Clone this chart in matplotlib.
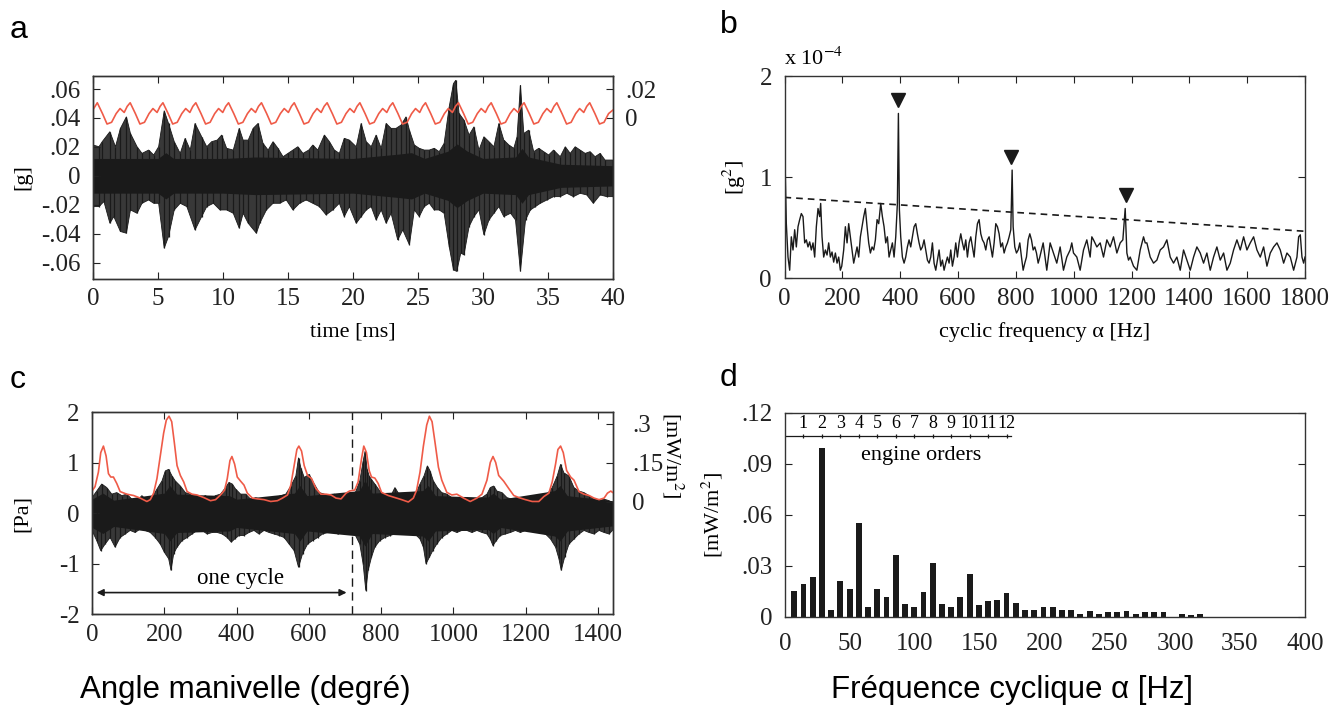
import numpy as np
import matplotlib
matplotlib.use("Agg")
import matplotlib.pyplot as plt

plt.rcParams['font.family'] = ['Liberation Serif', 'DejaVu Serif']
plt.rcParams['mathtext.fontset'] = 'stix'
plt.rcParams['axes.unicode_minus'] = False

RED = '#ef5b48'
BLK = '#1a1a1a'
GRY = '#383838'

# ---- panel a : acceleration [g] vs time [ms] (spike tips of the raw trace)
a_up_t = [0.0, 0.46, 0.71, 1.30, 1.73, 2.11, 2.57, 2.88, 3.39, 3.77,
          4.28, 4.67, 5.05, 5.48, 5.81, 6.25, 6.71, 7.09, 7.48, 7.85,
          8.36, 8.75, 9.13, 9.56, 9.90, 10.28, 10.79, 11.25, 11.55, 11.94,
          12.32, 12.70, 13.08, 13.47, 13.85, 14.23, 14.62, 15.00, 15.38, 15.76,
          16.15, 16.60, 16.91, 17.29, 17.80, 18.19, 18.57, 18.95, 19.33, 19.72,
          20.25, 20.63, 21.02, 21.40, 21.78, 22.17, 22.55, 22.93, 23.31, 23.70,
          24.08, 24.34, 24.72, 25.10, 25.48, 25.87, 26.25, 26.63, 27.01, 27.40,
          27.73, 27.91, 28.16, 28.54, 28.93, 29.31, 29.69, 30.07, 30.46, 30.84,
          31.22, 31.60, 31.99, 32.37, 32.62, 32.88, 33.14, 33.52, 33.90, 34.29,
          34.67, 35.05, 35.43, 35.94, 36.33, 36.71, 37.09, 37.47, 37.86, 38.24,
          38.62, 39.01, 39.39, 40.0]
a_up_v = [.0213, .0201, .0236, .0305, .0201, .0328, .0408, .0293, .0201, .0155,
          .0178, .0144, .0201, .0450, .0362, .0236, .0155, .0259, .0178, .0362,
          .0270, .0201, .0236, .0247, .0282, .0190, .0178, .0328, .0247, .0247,
          .0328, .0362, .0224, .0178, .0236, .0190, .0132, .0155, .0178, .0201,
          .0155, .0178, .0213, .0178, .0282, .0236, .0178, .0155, .0259, .0247,
          .0201, .0362, .0236, .0201, .0282, .0190, .0362, .0328, .0328, .0351,
          .0408, .0316, .0213, .0190, .0178, .0178, .0190, .0167, .0224, .0477,
          .0638, .0661, .0431, .0385, .0282, .0339, .0178, .0270, .0236, .0201,
          .0362, .0247, .0213, .0190, .0270, .0627, .0293, .0316, .0167, .0190,
          .0167, .0144, .0178, .0132, .0201, .0155, .0201, .0178, .0155, .0167,
          .0132, .0155, .0109, .0109]
a_lo_t = [0.0, 0.46, 0.84, 1.30, 1.60, 2.11, 2.57, 2.88, 3.39, 3.77,
          4.28, 4.67, 5.05, 5.48, 5.81, 6.25, 6.71, 7.22, 7.85, 8.36,
          8.75, 9.26, 9.77, 10.28, 10.79, 11.25, 11.55, 11.94, 12.57, 12.83,
          13.34, 13.85, 14.36, 14.87, 15.38, 15.89, 16.40, 16.91, 17.42, 17.93,
          18.44, 18.95, 19.33, 19.72,
          20.25, 20.63, 21.02, 21.40, 21.78, 22.17, 22.55, 22.93, 23.44, 23.83,
          24.34, 24.72, 25.10, 25.48, 25.87, 26.25, 26.63, 27.01, 27.40, 27.73,
          27.98, 28.29, 28.54, 28.93, 29.31, 29.69, 30.07, 30.46, 30.84, 31.22,
          31.60, 32.12, 32.50, 32.88, 33.27, 33.65, 34.03, 34.41, 34.92, 35.43,
          35.94, 36.45, 36.96, 37.47, 37.98, 38.49, 39.01, 39.52, 40.0]
a_lo_v = [-.0213, -.0213, -.0178, -.0328, -.0282, -.0385, -.0397, -.0236, -.0259, -.0190,
          -.0167, -.0190, -.0190, -.0500, -.0420, -.0236, -.0190, -.0213, -.0374, -.0282,
          -.0213, -.0190, -.0236, -.0236, -.0259, -.0362, -.0259, -.0328, -.0397, -.0328,
          -.0236, -.0190, -.0190, -.0167, -.0236, -.0190, -.0167, -.0190, -.0213, -.0270,
          -.0236, -.0190, -.0282, -.0213,
          -.0328, -.0282, -.0236, -.0213, -.0305, -.0236, -.0328, -.0259, -.0443, -.0374,
          -.0477, -.0236, -.0282, -.0213, -.0190, -.0236, -.0236, -.0259, -.0489, -.0650,
          -.0661, -.0535, -.0546, -.0351, -.0282, -.0236, -.0408, -.0305, -.0259, -.0213,
          -.0282, -.0259, -.0305, -.0661, -.0305, -.0236, -.0213, -.0190, -.0167, -.0144,
          -.0144, -.0121, -.0144, -.0121, -.0132, -.0190, -.0132, -.0144, -.0144]
# solid dense core of the trace (half height)
a_core_t = [0, 5.0, 5.6, 6.2, 10, 12.5, 20, 23.5, 24.5, 25.5, 27.3, 28.0, 28.8, 30, 32.5, 33.0, 33.5, 35, 36, 40]
a_core_v = [.012, .012, .016, .012, .012, .013, .012, .015, .016, .012, .017, .022, .017, .012, .013, .019, .013, .010, .008, .007]

# red curve of panel a (right axis)
a_red_t = [0.0,
           0.33, 0.73, 1.08, 1.43, 1.78, 2.08, 2.40, 2.63,
           2.86, 3.26, 3.61, 3.96, 4.31, 4.61, 4.93, 5.16,
           5.38, 5.78, 6.13, 6.48, 6.83, 7.13, 7.45, 7.68,
           7.91, 8.31, 8.66, 9.01, 9.36, 9.66, 9.98, 10.21,
           10.43, 10.83, 11.18, 11.53, 11.88, 12.18, 12.50, 12.73,
           12.96, 13.36, 13.71, 14.06, 14.41, 14.71, 15.03, 15.26,
           15.48, 15.88, 16.23, 16.58, 16.93, 17.23, 17.55, 17.78,
           18.01, 18.41, 18.76, 19.11, 19.46, 19.76, 20.08, 20.31,
           20.53, 20.93, 21.28, 21.63, 21.98, 22.28, 22.60, 22.83,
           23.06, 23.46, 23.81, 24.16, 24.51, 24.81, 25.13, 25.36,
           25.58, 25.98, 26.33, 26.68, 27.03, 27.33, 27.65, 27.88,
           28.11, 28.51, 28.86, 29.21, 29.56, 29.86, 30.18, 30.41,
           30.63, 31.03, 31.38, 31.73, 32.08, 32.38, 32.70, 32.93,
           33.16, 33.56, 33.91, 34.26, 34.61, 34.91, 35.23, 35.46,
           35.68, 36.08, 36.43, 36.78, 37.13, 37.43, 37.75, 37.98,
           38.21, 38.61, 38.96, 39.31, 39.66, 40.0]
a_red_v = [0.0057,
           0.0105, 0.003, -0.0042, -0.003, 0.003, 0.0065, 0.0038, 0.008,
           0.0105, 0.003, -0.0042, -0.003, 0.003, 0.0065, 0.0038, 0.008,
           0.0105, 0.003, -0.0042, -0.003, 0.003, 0.0065, 0.0038, 0.008,
           0.0105, 0.003, -0.0042, -0.003, 0.003, 0.0065, 0.0038, 0.008,
           0.0105, 0.003, -0.0042, -0.003, 0.003, 0.0065, 0.0038, 0.008,
           0.0105, 0.003, -0.0042, -0.003, 0.003, 0.0065, 0.0038, 0.008,
           0.0105, 0.003, -0.0042, -0.003, 0.003, 0.0065, 0.0038, 0.008,
           0.0105, 0.003, -0.0042, -0.003, 0.003, 0.0065, 0.0038, 0.008,
           0.0105, 0.003, -0.0042, -0.003, 0.003, 0.0065, 0.0038, 0.008,
           0.0105, 0.003, -0.0042, -0.003, 0.003, 0.0065, 0.0038, 0.008,
           0.0105, 0.003, -0.0042, -0.003, 0.003, 0.0065, 0.0038, 0.008,
           0.0105, 0.003, -0.0042, -0.003, 0.003, 0.0065, 0.0038, 0.008,
           0.0105, 0.003, -0.0042, -0.003, 0.003, 0.0065, 0.0038, 0.008,
           0.0105, 0.003, -0.0042, -0.003, 0.003, 0.0065, 0.0038, 0.008,
           0.0105, 0.003, -0.0042, -0.003, 0.003, 0.0065, 0.0038, 0.008,
           0.0105, 0.003, -0.0042, -0.003, 0.003, 0.0055]

# ---- panel b : cyclic spectrum [x1e-4 g^2] vs cyclic frequency [Hz]
b_freq = [0, 6.3, 12.1, 17.9, 23.6, 29.4, 35.2, 40.9, 46.7, 52.5,
          58.2, 64.0, 69.8, 75.5, 81.3, 87.1, 92.8, 98.6, 104.4, 110.1,
          115.9, 121.7, 125.1, 129.8, 135.5, 141.3, 147.1, 152.8, 158.6, 164.4,
          170.1, 175.9, 181.7, 187.4, 193.2, 198.0, 204.7, 210.5, 216.3, 222.0,
          227.8, 233.6, 239.3, 245.1, 250.9, 256.6, 262.4, 268.2, 273.9, 279.7,
          285.5, 291.2, 297.0, 302.8, 308.5, 314.3, 320.1, 325.8, 332.8, 338.5,
          344.3, 350.1, 355.8, 361.6, 367.4, 373.1, 378.9, 384.7, 390.4, 393.9,
          397.3, 401.9, 407.7, 413.5, 419.2, 425.0, 430.8, 436.5, 442.3, 448.1,
          453.9, 459.6, 465.4, 471.2, 476.9, 482.7, 488.5, 494.2, 500.0, 505.8,
          511.5, 517.3, 523.1, 528.8, 534.6, 540.4, 546.1, 551.9, 557.7, 563.4,
          569.2, 575.0, 580.7, 586.5, 592.3, 598.0, 603.8, 609.6, 615.3, 621.1,
          626.9, 632.6, 638.4, 644.2, 649.9, 655.7, 661.5, 667.2, 673.0, 678.8,
          684.5, 690.3, 696.1, 701.8, 707.6, 713.4, 719.1, 724.9, 730.7, 736.4,
          742.2, 748.0, 753.7, 759.5, 765.3, 771.0, 776.8, 782.6, 787.2, 790.7,
          796.4, 802.2, 808.0, 813.7, 819.5, 825.3, 831.0, 836.8, 842.6, 848.3,
          854.1, 859.9, 865.6, 871.4, 877.2, 882.9, 888.7, 894.5,
          907.0, 918.6, 930.1, 941.6, 953.2, 964.7, 976.2, 987.8, 993.5, 999.4,
          1010.9, 1022.4, 1034.0, 1045.5, 1057.0, 1062.8, 1068.6, 1080.2, 1091.7, 1103.2,
          1114.8, 1126.3, 1137.8, 1149.4, 1160.9, 1170.1, 1178.2, 1184.0, 1189.7, 1195.5,
          1207.0, 1218.6, 1230.1, 1241.6, 1247.4, 1253.2, 1264.7, 1276.2, 1287.8, 1299.3,
          1310.8, 1322.3, 1333.9, 1345.4, 1356.9, 1368.5, 1380.0, 1391.5, 1403.1, 1414.6,
          1426.1, 1437.7, 1449.2, 1460.7, 1472.3, 1483.8, 1495.3, 1506.9, 1518.5, 1530.0,
          1541.5, 1553.0, 1564.6, 1576.1, 1587.7, 1599.2, 1610.7, 1622.3, 1633.8, 1645.3,
          1656.9, 1668.4, 1679.9, 1691.5, 1703.0, 1714.5, 1726.1, 1737.6, 1749.1, 1760.7,
          1772.2, 1778.0, 1783.7, 1789.5, 1795.3, 1800]
b_amp = [1.43, 0.54, 0.21, 0.08, 0.41, 0.28, 0.48, 0.31, 0.51, 0.58,
         0.64, 0.61, 0.35, 0.38, 0.31, 0.36, 0.28, 0.35, 0.21, 0.51,
         0.69, 0.61, 0.74, 0.41, 0.21, 0.28, 0.23, 0.35, 0.21, 0.26,
         0.16, 0.25, 0.15, 0.21, 0.08, 0.12, 0.28, 0.51, 0.35, 0.54,
         0.41, 0.28, 0.15, 0.23, 0.31, 0.21, 0.41, 0.51, 0.61, 0.69,
         0.51, 0.35, 0.25, 0.31, 0.28, 0.38, 0.58, 0.54, 0.74, 0.61,
         0.51, 0.35, 0.41, 0.21, 0.28, 0.35, 0.21, 0.41, 0.74, 1.63,
         0.68, 0.41, 0.21, 0.15, 0.21, 0.31, 0.38, 0.31, 0.41, 0.51,
         0.54, 0.44, 0.35, 0.28, 0.31, 0.38, 0.28, 0.18, 0.15, 0.21,
         0.35, 0.15, 0.08, 0.18, 0.28, 0.12, 0.18, 0.08, 0.15, 0.21,
         0.15, 0.28, 0.12, 0.21, 0.35, 0.21, 0.35, 0.44, 0.35, 0.28,
         0.38, 0.21, 0.35, 0.41, 0.31, 0.21, 0.41, 0.54, 0.58, 0.44,
         0.38, 0.35, 0.28, 0.38, 0.41, 0.31, 0.21, 0.35, 0.54, 0.51,
         0.44, 0.31, 0.35, 0.25, 0.31, 0.35, 0.41, 0.48, 1.07, 0.51,
         0.31, 0.25, 0.28, 0.35, 0.21, 0.08, 0.15, 0.21, 0.38, 0.44,
         0.38, 0.28, 0.31, 0.25, 0.15, 0.21, 0.28, 0.35,
         0.08, 0.35, 0.25, 0.15, 0.31, 0.08, 0.21, 0.28, 0.35, 0.25,
         0.21, 0.08, 0.28, 0.38, 0.21, 0.41, 0.38, 0.31, 0.35, 0.21,
         0.38, 0.31, 0.41, 0.25, 0.35, 0.38, 0.69, 0.25, 0.18, 0.21,
         0.12, 0.08, 0.28, 0.41, 0.35, 0.35, 0.21, 0.15, 0.18, 0.28,
         0.31, 0.38, 0.21, 0.15, 0.21, 0.08, 0.28, 0.18, 0.08, 0.21,
         0.31, 0.25, 0.15, 0.25, 0.08, 0.21, 0.31, 0.18, 0.25, 0.08,
         0.15, 0.28, 0.38, 0.28, 0.41, 0.28, 0.35, 0.41, 0.28, 0.21,
         0.31, 0.12, 0.25, 0.31, 0.35, 0.28, 0.15, 0.25, 0.21, 0.08,
         0.21, 0.41, 0.43, 0.21, 0.15, 0.21]
b_thresh_f = [0, 1800]
b_thresh_v = [0.80, 0.465]
b_mark_f = [394, 782, 1181]
b_mark_v = [1.76, 1.20, 0.82]

# ---- panel c : pressure [Pa] and red power curve [mW/m2] vs crank angle
c_up_deg = [0, 13.1, 26.9, 40.8, 54.7, 68.6, 82.5, 96.4, 110.3, 124.2,
            138.1, 151.9, 165.8, 179.7, 193.6, 202.9, 212.1, 221.4, 230.6, 244.5,
            258.4, 272.3, 286.2, 300.1, 314.0, 327.9, 341.8, 355.6, 369.5, 378.8,
            388.1, 397.3, 411.2, 425.1, 439.0, 452.9, 466.8, 480.6, 494.5, 508.4,
            522.3, 536.2, 550.1, 564.0, 571.4, 577.9, 587.1, 601.0, 614.9, 628.8,
            642.7, 656.6, 670.5, 684.4, 698.2, 712.1, 727.0, 740.8, 750.1, 755.6,
            761.2, 766.8, 773.2, 782.5, 796.4, 810.3, 824.2, 838.1, 851.9, 865.8,
            879.7, 893.6, 907.5, 918.6, 927.9, 935.3, 944.5, 955.6, 967.7, 981.6,
            995.5, 1009.4, 1023.2, 1037.1, 1051.0, 1064.9, 1078.8, 1092.7, 1101.9, 1111.2,
            1120.5, 1134.4, 1148.2, 1162.1, 1176.0, 1189.9, 1203.8, 1217.7, 1231.6, 1245.5,
            1259.4, 1273.2, 1287.1, 1296.4, 1305.6, 1319.5, 1333.4, 1347.3, 1361.2, 1375.1,
            1389.0, 1402.9, 1416.8, 1430.6, 1440]
c_up_v = [0.31, 0.44, 0.58, 0.51, 0.38, 0.41, 0.35, 0.38, 0.28, 0.25,
          0.35, 0.25, 0.31, 0.48, 0.64, 0.84, 0.87, 0.74, 0.64, 0.54,
          0.41, 0.38, 0.31, 0.31, 0.35, 0.28, 0.35, 0.38, 0.51, 0.61,
          0.58, 0.48, 0.38, 0.38, 0.28, 0.31, 0.28, 0.31, 0.28, 0.31,
          0.35, 0.38, 0.54, 0.74, 1.10, 0.90, 0.71, 0.77, 0.58, 0.41,
          0.38, 0.31, 0.38, 0.28, 0.31, 0.25, 0.38, 0.64, 1.03, 1.23,
          0.87, 0.74, 0.67, 0.58, 0.44, 0.35, 0.31, 0.51, 0.35, 0.31,
          0.25, 0.35, 0.58, 0.74, 0.94, 0.84, 0.64, 0.51, 0.41, 0.38,
          0.31, 0.28, 0.28, 0.31, 0.25, 0.28, 0.31, 0.38, 0.51, 0.54,
          0.44, 0.41, 0.31, 0.28, 0.28, 0.31, 0.28, 0.25, 0.28, 0.31,
          0.38, 0.51, 0.74, 0.97, 0.80, 0.74, 0.51, 0.44, 0.41, 0.35,
          0.28, 0.25, 0.28, 0.25, 0.18]
c_lo_deg = [0, 13.1, 24.2, 36.2, 50.1, 64.0, 77.9, 91.8, 105.6, 119.5,
            133.4, 147.3, 161.2, 175.1, 189.0, 200.1, 212.1, 218.6, 226.0, 235.3,
            249.2, 263.1, 276.9, 290.8, 304.7, 318.6, 332.5, 346.4, 360.3, 374.2,
            385.3, 394.5, 406.6, 420.5, 434.4, 448.2, 462.1, 476.0, 489.9, 503.8,
            517.7, 531.6, 545.5, 559.3, 571.4, 582.5, 596.4, 610.3, 624.2, 638.1,
            651.9, 665.8, 679.7, 693.6, 707.5, 727.0, 740.8, 750.1, 757.5, 764.0,
            773.2, 782.5, 796.4, 810.3, 824.2, 838.1, 851.9, 865.8, 879.7, 893.6,
            907.5, 916.8, 924.2, 933.4, 942.7, 953.8, 967.7, 981.6, 995.5, 1009.4,
            1023.2, 1037.1, 1051.0, 1064.9, 1078.8, 1092.7, 1101.9, 1109.4, 1118.6, 1129.7,
            1143.6, 1157.5, 1171.4, 1185.3, 1199.2, 1213.1, 1226.9, 1240.8, 1254.7, 1268.6,
            1282.5, 1291.8, 1298.2, 1307.5, 1319.5, 1333.4, 1347.3, 1361.2, 1375.1, 1389.0,
            1402.9, 1416.8, 1430.6, 1440]
c_lo_v = [-0.34, -0.54, -0.74, -0.61, -0.48, -0.67, -0.48, -0.41, -0.34, -0.38,
          -0.31, -0.34, -0.38, -0.48, -0.61, -0.77, -0.90, -1.13, -0.80, -0.67,
          -0.54, -0.48, -0.41, -0.34, -0.34, -0.41, -0.38, -0.38, -0.41, -0.48,
          -0.57, -0.51, -0.44, -0.44, -0.38, -0.34, -0.41, -0.34, -0.38, -0.41,
          -0.44, -0.48, -0.61, -0.74, -1.07, -0.80, -0.61, -0.54, -0.48, -0.41,
          -0.38, -0.34, -0.41, -0.38, -0.38, -0.41, -0.61, -1.00, -1.53, -1.13,
          -0.87, -0.67, -0.54, -0.48, -0.44, -0.41, -0.38, -0.34, -0.38, -0.41,
          -0.51, -0.67, -1.00, -0.87, -0.74, -0.61, -0.48, -0.41, -0.34, -0.38,
          -0.34, -0.34, -0.38, -0.34, -0.38, -0.41, -0.51, -0.64, -0.54, -0.44,
          -0.41, -0.38, -0.34, -0.38, -0.34, -0.31, -0.34, -0.38, -0.41, -0.51,
          -0.67, -0.90, -1.13, -0.87, -0.61, -0.51, -0.41, -0.34, -0.38, -0.41,
          -0.34, -0.38, -0.41, -0.34]
c_core_deg = [0, 30, 60, 200, 215, 235, 380, 400, 560, 575, 595, 740, 755, 775, 915, 930, 950,
              1095, 1110, 1130, 1280, 1295, 1315, 1440]
c_core_v = [0.28, 0.40, 0.26, 0.40, 0.55, 0.38, 0.35, 0.28, 0.40, 0.55, 0.35, 0.45, 0.65, 0.40,
            0.45, 0.55, 0.35, 0.32, 0.40, 0.28, 0.45, 0.55, 0.35, 0.25]
c_red_deg = [0, 8.4, 17.7, 24.2, 31.6, 39.0, 45.5, 51.9, 59.3, 68.6,
             77.9, 96.4, 114.9, 133.4, 151.9, 161.2, 170.5, 179.7, 189.0, 198.2,
             205.6, 213.1, 220.5, 227.9, 235.3, 244.5, 253.8, 263.1, 276.9, 290.8,
             309.4, 327.9, 341.8, 355.6, 366.8, 374.2, 381.6, 387.1, 394.5, 401.9,
             411.2, 420.5, 429.7, 443.6, 457.5, 476.0, 494.5, 513.0, 526.9, 540.8,
             550.1, 559.3, 566.8, 572.3, 579.7, 587.1, 596.4, 607.5, 619.5, 633.4,
             647.3, 661.2, 675.1, 689.0, 702.9, 712.1, 727.0, 736.2, 745.5, 751.9,
             759.4, 766.8, 773.2, 782.5, 791.8, 801.0, 819.5, 838.1, 856.6, 875.1,
             889.0, 898.2, 907.5, 916.8, 926.0, 933.4, 940.8, 949.2, 958.4, 967.7,
             981.6, 995.5, 1009.4, 1027.9, 1046.4, 1064.9, 1078.8, 1092.7, 1101.9, 1109.4,
             1116.8, 1125.1, 1139.0, 1152.9, 1166.8, 1180.6, 1199.2, 1217.7, 1236.2, 1250.1,
             1264.0, 1273.2, 1282.5, 1289.0, 1296.4, 1303.8, 1313.1, 1324.2, 1333.4, 1347.3,
             1361.2, 1375.1, 1389.0, 1402.9, 1416.8, 1426.0, 1435.3, 1440]
c_red_v = [0.041, 0.058, 0.114, 0.189, 0.214, 0.176, 0.108, 0.095, 0.095, 0.070,
           0.039, 0.029, 0.024, 0.014, 0.001, 0.008, 0.033, 0.089, 0.176, 0.264,
           0.314, 0.329, 0.308, 0.226, 0.139, 0.101, 0.076, 0.039, 0.029, 0.026,
           0.016, 0.004, 0.008, 0.026, 0.045, 0.089, 0.158, 0.174, 0.145, 0.095,
           0.079, 0.064, 0.033, 0.014, 0.011, 0.008, 0.001, 0.004, 0.014, 0.026,
           0.064, 0.139, 0.201, 0.214, 0.195, 0.139, 0.101, 0.089, 0.051, 0.029,
           0.029, 0.026, 0.014, 0.011, 0.033, 0.041, 0.045, 0.076, 0.164, 0.214,
           0.189, 0.120, 0.095, 0.091, 0.070, 0.036, 0.024, 0.016, 0.008, -0.001,
           0.014, 0.045, 0.114, 0.214, 0.295, 0.329, 0.308, 0.226, 0.133, 0.083,
           0.036, 0.026, 0.029, 0.014, 0.001, 0.014, 0.029, 0.083, 0.151, 0.174,
           0.151, 0.101, 0.079, 0.051, 0.024, 0.016, 0.008, 0.001, 0.001, 0.020,
           0.033, 0.076, 0.145, 0.201, 0.214, 0.189, 0.120, 0.095, 0.083, 0.039,
           0.029, 0.024, 0.014, 0.008, 0.014, 0.033, 0.041, 0.036]

# ---- panel d : bars [mW/m2] vs cyclic frequency [Hz]
d_freq = [7.1, 14.2, 21.3, 28.4, 35.5, 42.6, 49.7, 56.8, 63.9, 71.0,
          78.1, 85.2, 92.3, 99.4, 106.5, 113.6, 120.7, 127.8, 134.9, 142.0,
          149.1, 156.2, 163.3, 170.4, 177.5, 184.6, 191.7, 198.8, 205.9, 213.0,
          220.1, 227.2, 234.3, 241.4, 248.5, 255.6, 262.7, 269.8, 276.9, 284.0,
          291.1, 305.3, 312.4, 319.5]
d_val = [0.0152, 0.0194, 0.0233, 0.0989, 0.0040, 0.0210, 0.0162, 0.0552, 0.0058, 0.0162,
         0.0113, 0.0359, 0.0074, 0.0056, 0.0145, 0.0312, 0.0074, 0.0056, 0.0113, 0.0249,
         0.0066, 0.0090, 0.0097, 0.0139, 0.0082, 0.0040, 0.0040, 0.0056, 0.0056, 0.0040,
         0.0040, 0.0017, 0.0032, 0.0017, 0.0025, 0.0025, 0.0032, 0.0017, 0.0025, 0.0025,
         0.0025, 0.0015, 0.0007, 0.0015]
orders = [1, 2, 3, 4, 5, 6, 7, 8, 9, 10, 11, 12]
order_freq = [14.2, 28.4, 42.6, 56.8, 71.0, 85.2, 99.4, 113.6, 127.8, 142.0, 156.2, 170.4]


W, H = 1342, 713
fig = plt.figure(figsize=(W / 100, H / 100), dpi=100)


def frame(ax):
    for s in ax.spines.values():
        s.set_linewidth(1.0)
        s.set_color('#333333')
    ax.tick_params(direction='in', length=5, width=0.8, labelsize=18, colors='#222222')
    ax.tick_params(axis='x', pad=7)
    ax.tick_params(axis='y', pad=9)


def trace(ax, up_t, up_v, lo_t, lo_v, core_t, core_v):
    # envelope through the spike tips, dense core in black, spikes as thin strokes
    ax.fill(np.concatenate([up_t, lo_t[::-1]]), np.concatenate([up_v, lo_v[::-1]]),
            color=GRY, lw=0.6, ec=BLK)
    ax.fill_between(core_t, -np.array(core_v), core_v, color=BLK, lw=0)
    ax.vlines(up_t, 0, up_v, color=BLK, lw=0.9)
    ax.vlines(lo_t, lo_v, 0, color=BLK, lw=0.9)


# panel a
ax_a = fig.add_axes([93 / W, 1 - 278.5 / H, 520 / W, 202.5 / H])
trace(ax_a, a_up_t, a_up_v, a_lo_t, a_lo_v, a_core_t, a_core_v)
ax_a.set_xlim(0, 40)
ax_a.set_ylim(-0.071, 0.069)
ax_a.set_xticks(range(0, 41, 5))
ax_a.set_yticks([-0.06, -0.04, -0.02, 0, 0.02, 0.04, 0.06],
                ['-.06', '-.04', '-.02', '0', '.02', '.04', '.06'])
frame(ax_a)
ax_a.tick_params(top=True)
ax_a.set_xlabel('time [ms]', fontsize=16)
ax_a.xaxis.set_label_coords(0.5, -0.215)
ax_a.set_ylabel('[g]', fontsize=16)
ax_a.yaxis.set_label_coords(-0.117, 0.5)
ax_a2 = ax_a.twinx()
ax_a2.plot(a_red_t, a_red_v, color=RED, lw=1.2)
ax_a2.set_ylim(-0.111, 0.029)
ax_a2.set_yticks([0, 0.02], ['0', '.02'])
frame(ax_a2)

# panel b
ax_b = fig.add_axes([784.5 / W, 1 - 278.3 / H, 520.5 / W, 202.3 / H])
ax_b.plot(b_freq, b_amp, color=BLK, lw=1.0)
ax_b.plot(b_thresh_f, b_thresh_v, color=BLK, lw=1.2, ls=(0, (4, 3)))
ax_b.plot(b_mark_f, b_mark_v, 'v', color=BLK, ms=10)
ax_b.set_xlim(0, 1800)
ax_b.set_ylim(0, 2)
ax_b.set_xticks(range(0, 1801, 200))
ax_b.set_yticks([0, 1, 2])
frame(ax_b)
ax_b.tick_params(top=True, right=True)
ax_b.set_xlabel('cyclic frequency α [Hz]', fontsize=16)
ax_b.xaxis.set_label_coords(0.5, -0.215)
ax_b.set_ylabel('[g$^2$]', fontsize=16)
ax_b.yaxis.set_label_coords(-0.070, 0.5)
ax_b.text(0.0, 1.03, 'x 10$^{-4}$', transform=ax_b.transAxes, fontsize=16, ha='left', va='bottom')

# panel c
ax_c = fig.add_axes([92 / W, 1 - 614.3 / H, 520.5 / W, 202 / H])
trace(ax_c, c_up_deg, c_up_v, c_lo_deg, c_lo_v, c_core_deg, c_core_v)
ax_c.axvline(720, color=BLK, lw=1.0, ls=(0, (6, 4)))
ax_c.annotate('', xy=(5, -1.57), xytext=(712, -1.57),
              arrowprops=dict(arrowstyle='<|-|>', color=BLK, lw=1.2, mutation_scale=10))
ax_c.text(410, -1.3, 'one cycle', fontsize=16.5, ha='center', va='center')
ax_c.set_xlim(0, 1440)
ax_c.set_ylim(-1.98, 2.0)
ax_c.set_xticks(range(0, 1401, 200))
ax_c.set_yticks([-2, -1, 0, 1, 2])
frame(ax_c)
ax_c.tick_params(top=True)
ax_c.set_ylabel('[Pa]', fontsize=16)
ax_c.yaxis.set_label_coords(-0.115, 0.5)
ax_c2 = ax_c.twinx()
ax_c2.plot(c_red_deg, c_red_v, color=RED, lw=1.2)
ax_c2.set_ylim(-0.433, 0.344)
ax_c2.set_yticks([0, 0.15, 0.3], ['0', '.15', '.3'])
frame(ax_c2)
ax_c2.tick_params(axis='y', pad=14)
ax_c2.set_ylabel('[mW/m$^2$]', fontsize=16, rotation=270, va='center')
ax_c2.yaxis.set_label_coords(1.116, 0.79)

# panel d
ax_d = fig.add_axes([785 / W, 1 - 616.5 / H, 520 / W, 204 / H])
ax_d.bar(d_freq, d_val, width=4.5, color=BLK)
ax_d.plot([0, 174], [0.1063, 0.1063], color=BLK, lw=0.9)
ax_d.vlines(order_freq, 0.1050, 0.1076, color=BLK, lw=0.9)
for k, f in zip(orders, order_freq):
    ax_d.text(f, 0.1088, str(k), fontsize=13, ha='center', va='bottom')
ax_d.text(105, 0.0945, 'engine orders', fontsize=16, ha='center', va='center')
ax_d.set_xlim(0, 400)
ax_d.set_ylim(0, 0.12)
ax_d.set_xticks(range(0, 401, 50))
ax_d.set_yticks([0, 0.03, 0.06, 0.09, 0.12], ['0', '.03', '.06', '.09', '.12'])
frame(ax_d)
ax_d.tick_params(axis='x', length=0, pad=12)
ax_d.tick_params(axis='y', right=True)
ax_d.set_ylabel('[mW/m$^2$]', fontsize=16)
ax_d.yaxis.set_label_coords(-0.115, 0.5)

# panel letters and bottom captions
for x, y, s in [(10, 30, 'a'), (720, 25, 'b'), (10, 380, 'c'), (720, 378, 'd')]:
    fig.text(x / W, 1 - y / H, s, fontsize=23, family='Liberation Sans', ha='left', va='center')
fig.text(245 / W, 1 - 690 / H, 'Angle manivelle (degré)', fontsize=22.5,
         family='Liberation Sans', ha='center', va='center')
fig.text(1012 / W, 1 - 690 / H, 'Fréquence cyclique α [Hz]', fontsize=22.5,
         family='Liberation Sans', ha='center', va='center')

plt.savefig('out.png', dpi=100)
